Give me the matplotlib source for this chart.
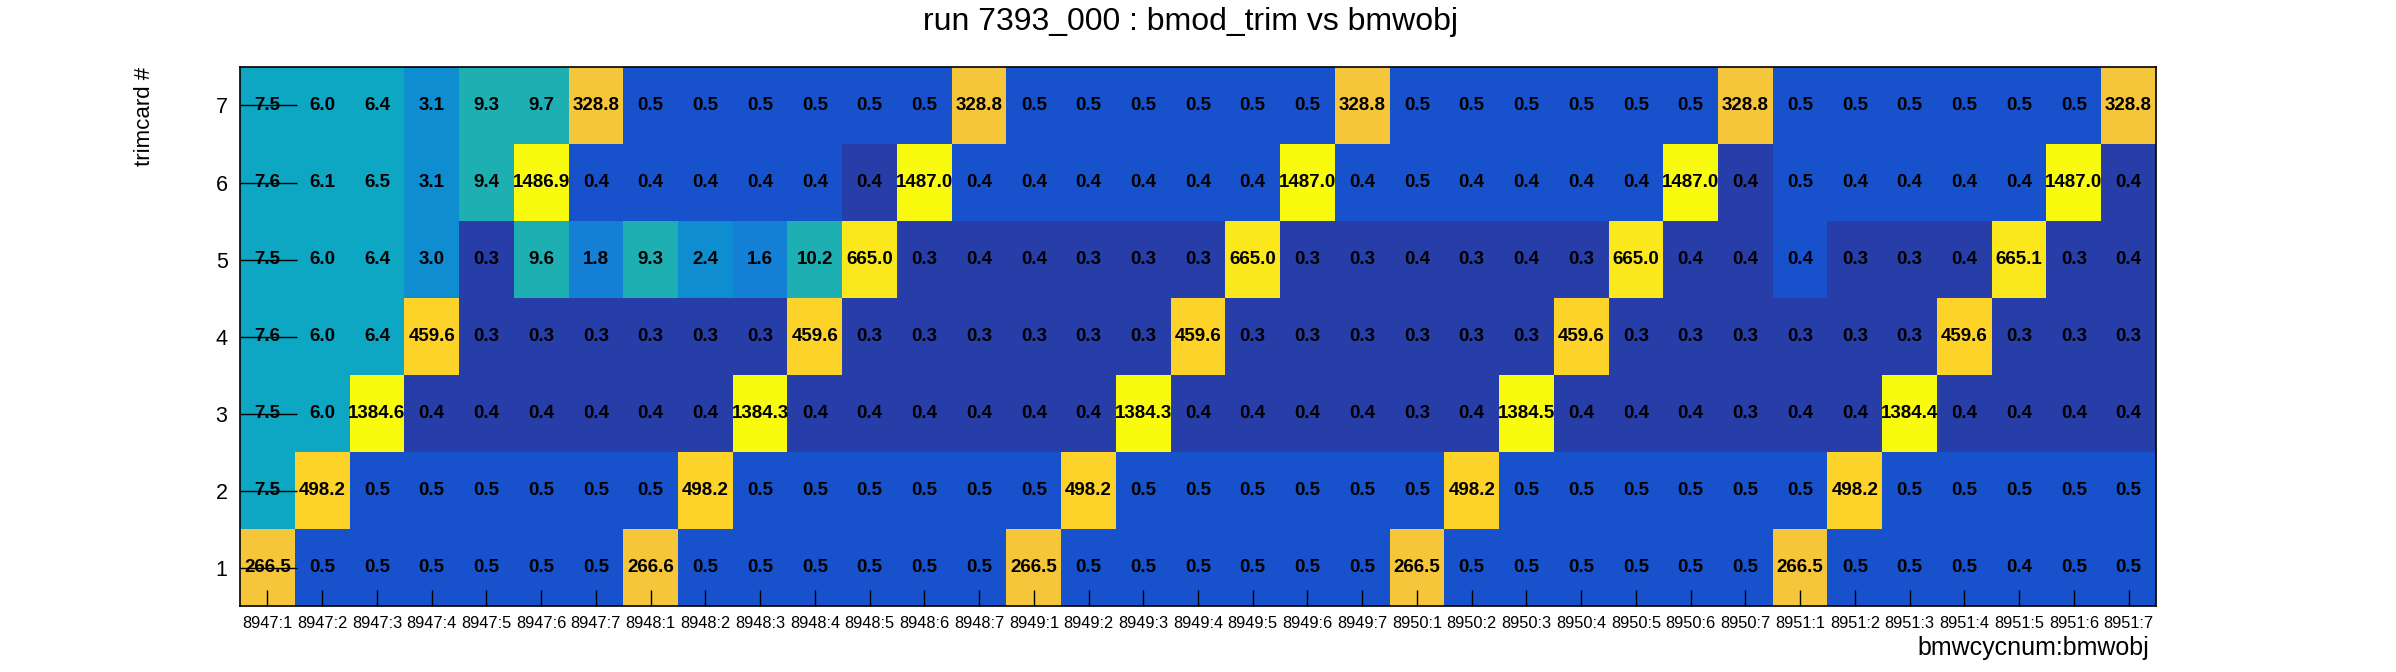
import numpy as np
import matplotlib
matplotlib.use("Agg")
import matplotlib.pyplot as plt
from matplotlib.colors import LinearSegmentedColormap, ListedColormap, BoundaryNorm

plt.rcParams['font.family'] = ['Liberation Sans', 'DejaVu Sans']

# ---- data ----
bins_x = ["8947:1", "8947:2", "8947:3", "8947:4", "8947:5", "8947:6", "8947:7",
          "8948:1", "8948:2", "8948:3", "8948:4", "8948:5", "8948:6", "8948:7",
          "8949:1", "8949:2", "8949:3", "8949:4", "8949:5", "8949:6", "8949:7",
          "8950:1", "8950:2", "8950:3", "8950:4", "8950:5", "8950:6", "8950:7",
          "8951:1", "8951:2", "8951:3", "8951:4", "8951:5", "8951:6", "8951:7"]
trimcards = [1, 2, 3, 4, 5, 6, 7]

trim1 = [266.54, 0.5, 0.5, 0.5, 0.5, 0.5, 0.5,
         266.6, 0.5, 0.5, 0.5, 0.5, 0.5, 0.5,
         266.5, 0.5, 0.5, 0.5, 0.5, 0.5, 0.5,
         266.5, 0.5, 0.5, 0.5, 0.5, 0.5, 0.5,
         266.5, 0.5, 0.5, 0.5, 0.43, 0.5, 0.5]
trim2 = [7.5, 498.2, 0.5, 0.5, 0.5, 0.5, 0.5,
         0.5, 498.2, 0.5, 0.5, 0.5, 0.5, 0.5,
         0.5, 498.2, 0.5, 0.5, 0.5, 0.5, 0.5,
         0.5, 498.2, 0.5, 0.5, 0.5, 0.5, 0.5,
         0.5, 498.2, 0.5, 0.5, 0.5, 0.5, 0.5]
trim3 = [7.5, 6.0, 1384.6, 0.38, 0.38, 0.38, 0.38,
         0.38, 0.38, 1384.3, 0.38, 0.38, 0.38, 0.38,
         0.38, 0.38, 1384.3, 0.38, 0.38, 0.38, 0.38,
         0.3, 0.38, 1384.5, 0.38, 0.38, 0.38, 0.3,
         0.38, 0.38, 1384.4, 0.38, 0.38, 0.38, 0.38]
trim4 = [7.6, 6.0, 6.4, 459.6, 0.27, 0.3, 0.3,
         0.3, 0.3, 0.3, 459.6, 0.3, 0.3, 0.3,
         0.3, 0.3, 0.3, 459.6, 0.3, 0.3, 0.3,
         0.3, 0.3, 0.3, 459.6, 0.3, 0.3, 0.3,
         0.3, 0.3, 0.3, 459.6, 0.3, 0.3, 0.3]
trim5 = [7.5, 6.0, 6.4, 3.0, 0.3, 9.6, 1.8,
         9.3, 2.4, 1.6, 10.2, 665.0, 0.3, 0.38,
         0.38, 0.3, 0.3, 0.3, 665.0, 0.3, 0.3,
         0.38, 0.3, 0.38, 0.3, 665.0, 0.38, 0.38,
         0.43, 0.3, 0.3, 0.38, 665.1, 0.3, 0.38]
trim6 = [7.6, 6.1, 6.5, 3.1, 9.4, 1486.9, 0.43,
         0.43, 0.43, 0.43, 0.43, 0.38, 1487.0, 0.43,
         0.43, 0.43, 0.43, 0.43, 0.43, 1487.0, 0.43,
         0.5, 0.43, 0.43, 0.43, 0.43, 1487.04, 0.38,
         0.5, 0.43, 0.43, 0.43, 0.43, 1487.0, 0.38]
trim7 = [7.5, 6.0, 6.4, 3.1, 9.3, 9.7, 328.8,
         0.5, 0.5, 0.5, 0.5, 0.5, 0.5, 328.8,
         0.5, 0.5, 0.5, 0.5, 0.5, 0.5, 328.8,
         0.5, 0.5, 0.5, 0.5, 0.5, 0.5, 328.8,
         0.5, 0.5, 0.5, 0.5, 0.5, 0.5, 328.8]

Z = np.array([trim1, trim2, trim3, trim4, trim5, trim6, trim7])

# ---- ROOT kBird palette, 20 contours on a log z scale ----
stops = [0.0000, 0.1250, 0.2500, 0.3750, 0.5000, 0.6250, 0.7500, 0.8750, 1.0000]
red   = [0.2082, 0.0592, 0.0780, 0.0232, 0.1802, 0.5301, 0.8186, 0.9956, 0.9764]
green = [0.1664, 0.3599, 0.5041, 0.6419, 0.7178, 0.7492, 0.7328, 0.7862, 0.9832]
blue  = [0.5293, 0.8684, 0.8385, 0.7914, 0.6425, 0.4662, 0.3499, 0.1968, 0.0539]
bird = LinearSegmentedColormap.from_list(
    "bird", [(s, (r, g, b)) for s, r, g, b in zip(stops, red, green, blue)], N=255)

ncont = 20
cols = [bird(int((i + 0.99) * 255 / ncont) / 254) for i in range(ncont)]
cmap = ListedColormap(cols)
cmap.set_over(cols[-1])
cmap.set_under(cols[0])
levels = np.logspace(np.log10(Z.min()), np.log10(Z.max()), ncont + 1)
norm = BoundaryNorm(levels, ncont)

fig = plt.figure(figsize=(23.96, 6.72), dpi=100)
ax = fig.add_axes([0.1002, 0.0982, 0.7996, 0.8021])

xe = np.arange(len(bins_x) + 1)
ye = np.arange(0.5, len(trimcards) + 1)
ax.pcolormesh(xe, ye, Z, cmap=cmap, norm=norm)

for i, t in enumerate(trimcards):
    for j in range(len(bins_x)):
        ax.text(j + 0.5, t, f"{Z[i, j]:.1f}", ha='center', va='center',
                fontsize=13.5, fontweight='bold', color='black')

ax.set_xlim(0, len(bins_x))
ax.set_ylim(0.5, len(trimcards) + 0.5)

ax.set_xticks(np.arange(len(bins_x)) + 0.5)
ax.set_xticklabels(bins_x, fontsize=11.8)
ax.set_yticks(trimcards)
ax.set_yticklabels([str(t) for t in trimcards], fontsize=15.5)
ax.tick_params(axis='x', direction='in', length=11.5, width=1, pad=7, top=False)
ax.tick_params(axis='y', direction='in', length=41, width=1, pad=9, right=False)
for sp in ax.spines.values():
    sp.set_linewidth(1.2)

fig.text(0.497, 1 - 22 / 672, "run 7393_000 : bmod_trim vs bmwobj",
         ha='center', va='center', fontsize=23)
ax.text(0.9963, -0.078, "bmwcycnum:bmwobj", transform=ax.transAxes,
        ha='right', va='center', fontsize=18)
fig.text(145 / 2396, 1 - 67 / 672, "trimcard #", rotation=90,
         ha='center', va='top', fontsize=16)

fig.savefig("out.png", dpi=100)
